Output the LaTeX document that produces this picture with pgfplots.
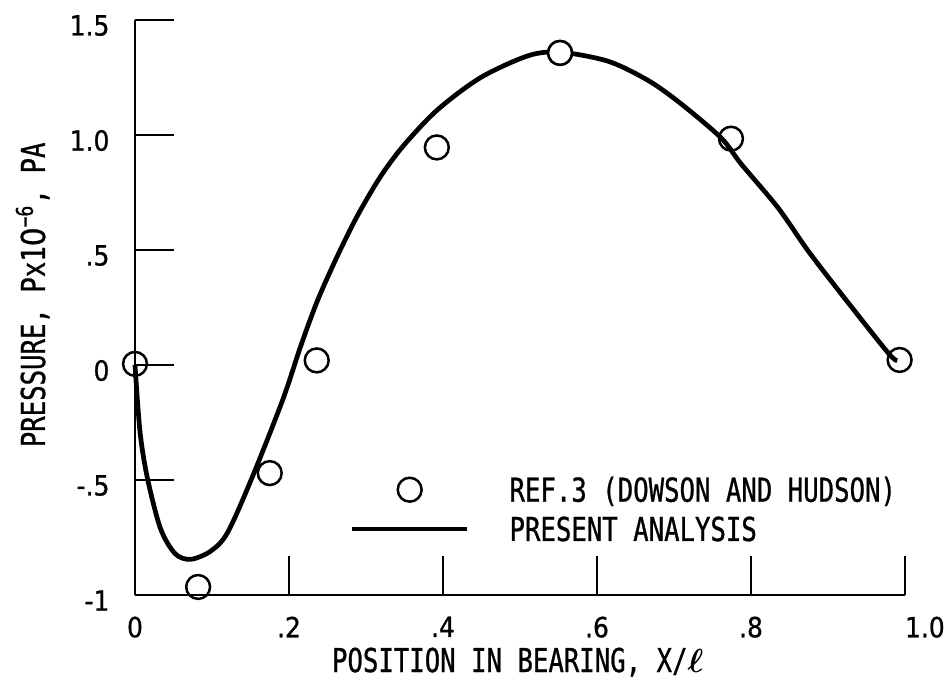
\documentclass[border=0pt]{standalone}
\usepackage{fontspec}
\setmainfont{DejaVu Sans Mono}[FakeStretch=0.78, FakeBold=0.8]
\newfontfamily\tickfont{DejaVu Sans}[FakeStretch=0.9, FakeBold=0.8]
\usepackage{pgfplots}
\pgfplotsset{compat=1.18}
\newcommand\lblsize{\fontsize{11.85}{14}\selectfont}
\pgfplotsset{
  circlegend/.style={legend image code/.code={\draw[##1, mark repeat=2, mark phase=2] plot coordinates {(0pt,0pt) (20.7pt,0pt) (41.4pt,0pt)};}},
  linelegend/.style={legend image code/.code={\draw[black, line width=1.7pt] (0pt,0pt) -- (41.4pt,0pt);}},
}
\begin{document}
\begin{tikzpicture}
\begin{axis}[
  x=277.2pt, y=82.8pt,
  xmin=0, xmax=1, ymin=-1, ymax=1.5,
  axis x line=bottom, axis y line=left,
  axis line style={-, line width=1pt},
  tick align=inside,
  major tick length=14pt,
  every tick/.style={black, line width=1pt},
  xtick={0,0.2,0.4,0.6,0.8,1},
  xticklabels={0,.2,.4,.6,.8,\hphantom{1.0}1.0},
  ytick={-1,-0.5,0,0.5,1,1.5},
  yticklabels={-1,-.5,0,.5,1.0,1.5},
  xticklabel style={font=\tickfont\fontsize{10}{12}\selectfont, inner sep=0pt, anchor=north, yshift=-7.6pt},
  yticklabel style={font=\tickfont\fontsize{10}{12}\selectfont, inner sep=0pt, anchor=east, xshift=-9pt, yshift=-2pt},
  clip=false,
  xlabel={POSITION IN BEARING, X/{\boldmath$\ell$}},
  ylabel={PRESSURE, Px1{\tickfont 0}\textsuperscript{\textminus 6}, PA},
  every axis x label/.style={at={(axis description cs:0.497,-0.134)}, anchor=base, font=\lblsize},
  every axis y label/.style={at={(axis description cs:-0.1169,0.522)}, rotate=90, anchor=base, font=\lblsize},
  legend style={at={(axis cs:0.279,-0.49)}, anchor=north west, draw=none, fill=none,
    inner sep=0pt, outer sep=0pt, row sep=5.5pt, column sep=14.4pt,
    nodes={inner sep=0pt, text height=8.64pt, text depth=0pt, anchor=west},
    font=\lblsize},
  legend cell align=left,
]
\addplot[only marks, mark=o, mark size=4.3pt, mark options={line width=0.9pt, black}, circlegend]
  coordinates {(0,0.005) (0.082,-0.965) (0.175,-0.47) (0.236,0.02) (0.392,0.946) (0.552,1.357) (0.774,0.984) (0.993,0.022)};
\addlegendentry{REF.3 (DOWSON AND HUDSON)}
\addplot[black, line width=1.7pt, smooth, tension=0.5, mark=none, linelegend]
  coordinates {
  (0.000,0.00) (0.0065,-0.29) (0.016,-0.49) (0.033,-0.71) (0.052,-0.82) (0.072,-0.845)
  (0.098,-0.81) (0.12,-0.73) (0.152,-0.49) (0.192,-0.15) (0.215,0.08) (0.237,0.28)
  (0.263,0.475) (0.289,0.65) (0.319,0.82) (0.349,0.955) (0.393,1.11) (0.449,1.25)
  (0.511,1.345) (0.553,1.36) (0.615,1.32) (0.667,1.236) (0.709,1.136) (0.761,0.988)
  (0.787,0.875) (0.835,0.684) (0.874,0.497) (0.917,0.31) (0.978,0.053) (0.99,0.02)};
\addlegendentry{PRESENT ANALYSIS}
\addplot[forget plot, only marks, mark=*, mark size=4.3pt, mark options={line width=0.9pt, draw=black, fill=white}]
  coordinates {(0.552,1.357)};
\end{axis}
\pgfresetboundingbox
\useasboundingbox (-48.6pt,-29.88pt) rectangle (291.24pt,214.2pt);
\end{tikzpicture}
\end{document}
